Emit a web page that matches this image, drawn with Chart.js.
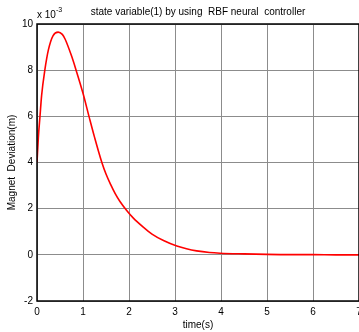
<!DOCTYPE html>
<html>
<head>
<meta charset="utf-8">
<script src="https://cdn.jsdelivr.net/npm/chart.js@4/dist/chart.umd.min.js"></script>
<style>
  body { margin: 0; background: #fff; overflow: hidden; }
  #wrap { width: 359px; height: 332px; overflow: hidden; position: relative; }
</style>
</head>
<body>
<div id="wrap"><canvas id="c" width="400" height="332"></canvas></div>
<script>
// время, с
const times = [0, 0.03, 0.065, 0.1, 0.17, 0.25, 0.35, 0.46, 0.55, 0.61, 0.75, 0.85, 1.0, 1.13, 1.25, 1.41, 1.5, 1.6, 1.7, 1.8, 1.95, 2.09, 2.31, 2.5, 2.75, 3.04, 3.25, 3.47, 3.75, 3.98, 4.5, 5.0, 5.5, 6.0, 6.5, 7.0];
// отклонение магнита, x 10^-3 м
const deviation = [4.0, 5.1, 6.0, 6.9, 8.0, 8.9, 9.5, 9.65, 9.55, 9.35, 8.62, 8.0, 7.0, 6.0, 5.1, 4.0, 3.5, 3.05, 2.65, 2.32, 1.92, 1.6, 1.2, 0.9, 0.62, 0.38, 0.26, 0.17, 0.1, 0.07, 0.04, 0.02, 0.01, 0.01, 0.0, 0.0];
const xTicks = [0, 1, 2, 3, 4, 5, 6, 7];
const yTicks = [-2, 0, 2, 4, 6, 8, 10];

const FONT = 'Liberation Sans, Arial, sans-serif';

// рамка, заголовок и множитель
const decor = {
    id: 'decor',
    afterDraw(chart) {
        const { ctx, chartArea: a } = chart;
        ctx.save();
        ctx.strokeStyle = '#000';
        ctx.lineWidth = 1.5;
        ctx.strokeRect(a.left, a.top, a.right - a.left, a.bottom - a.top);
        ctx.fillStyle = '#000';
        ctx.textBaseline = 'middle';
        ctx.font = '10px ' + FONT;
        ctx.textAlign = 'center';
        ctx.fillText('state variable(1) by using  RBF neural  controller', 198, 12);
        ctx.textAlign = 'left';
        ctx.fillText('x 10', 37, 15);
        ctx.font = '7px ' + FONT;
        ctx.fillText('-3', 56, 10);
        ctx.restore();
    }
};

new Chart(document.getElementById('c'), {
    type: 'line',
    data: {
        datasets: [{
            data: times.map((t, i) => ({ x: t, y: deviation[i] })),
            borderColor: '#ff0000',
            borderWidth: 1.6,
            pointRadius: 0,
            cubicInterpolationMode: 'monotone',
            fill: false
        }]
    },
    options: {
        responsive: false,
        animation: false,
        layout: { padding: { top: 24, right: 41, left: 0, bottom: 0 } },
        plugins: { legend: { display: false }, tooltip: { enabled: false } },
        scales: {
            x: {
                type: 'linear', min: 0, max: 7,
                afterBuildTicks: s => { s.ticks = xTicks.map(v => ({ value: v })); },
                afterFit: s => { s.height = 31; },
                border: { display: false },
                grid: { color: '#8c8c8c', lineWidth: 1, drawTicks: false },
                ticks: { color: '#000', padding: 5, maxRotation: 0, font: { family: FONT, size: 10 } },
                title: { display: true, text: 'time(s)', color: '#000', padding: { top: 0, bottom: 1 }, font: { family: FONT, size: 10 } }
            },
            y: {
                min: -2, max: 10,
                afterBuildTicks: s => { s.ticks = yTicks.map(v => ({ value: v })); },
                afterFit: s => { s.width = 37; },
                border: { display: false },
                grid: { color: '#8c8c8c', lineWidth: 1, drawTicks: false },
                ticks: { color: '#000', padding: 4, font: { family: FONT, size: 10 } },
                title: { display: true, text: 'Magnet  Deviation(m)', color: '#000', padding: { top: 6, bottom: 0 }, font: { family: FONT, size: 10 } }
            }
        }
    },
    plugins: [decor]
});
</script>
</body>
</html>
